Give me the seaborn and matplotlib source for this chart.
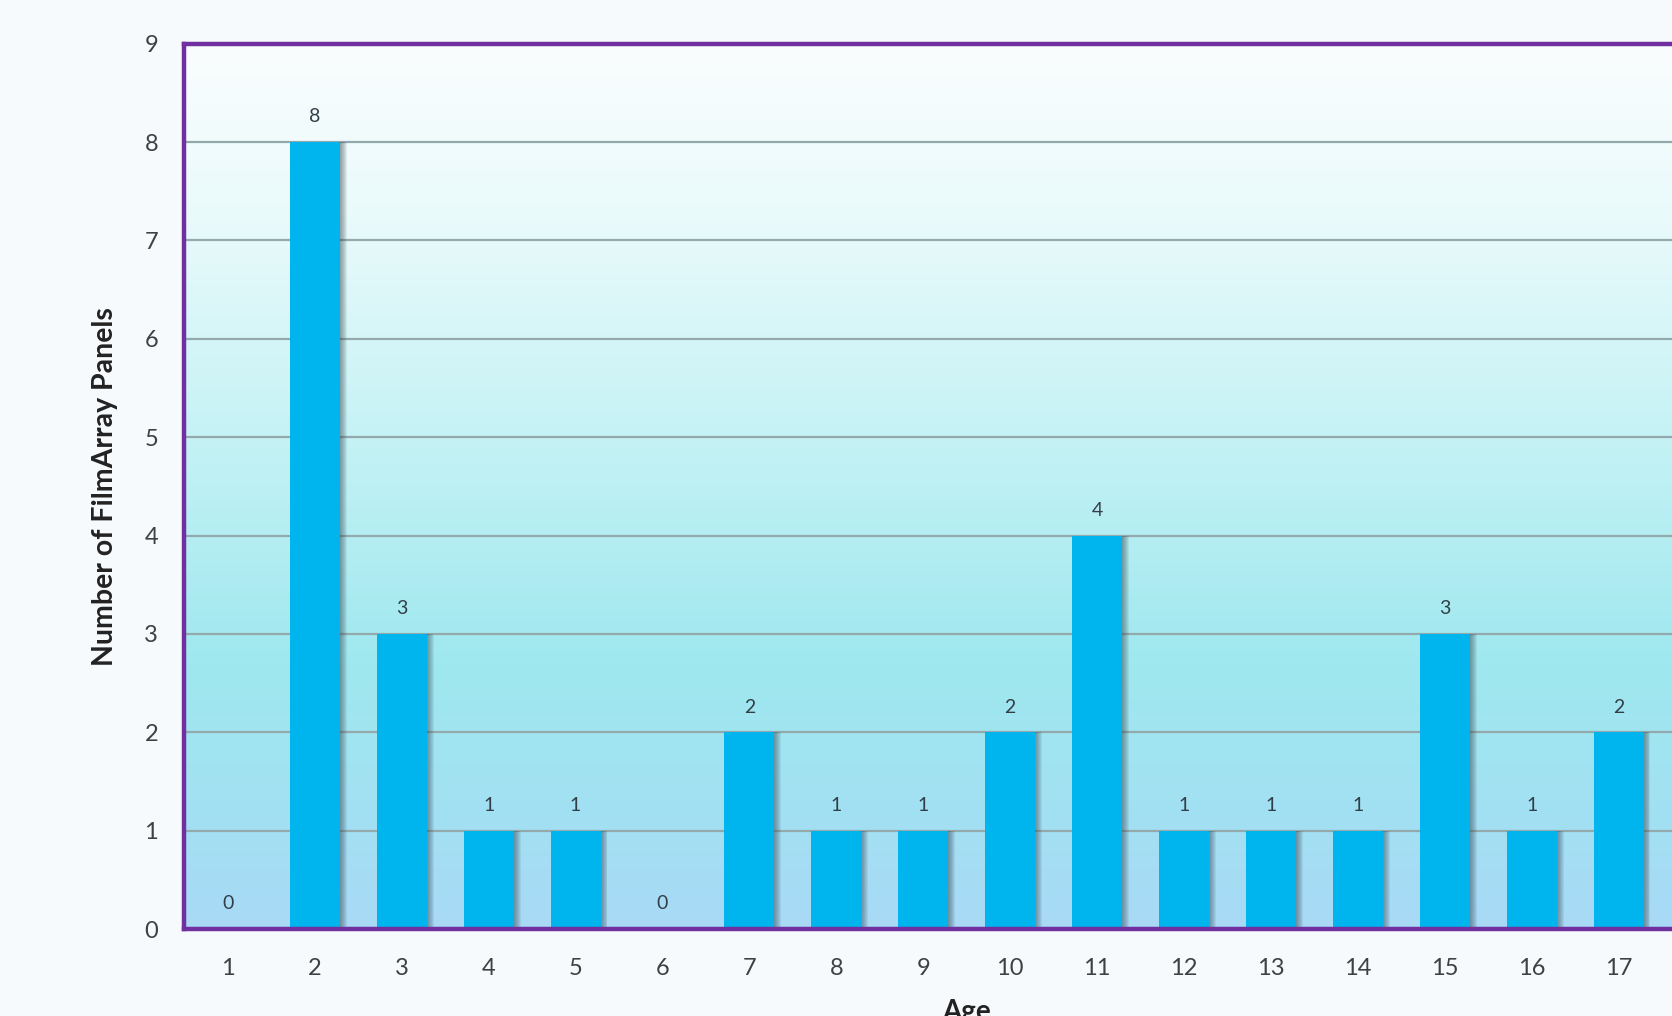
import numpy as np
import pandas as pd
import matplotlib
matplotlib.use("Agg")
import matplotlib.pyplot as plt
from matplotlib.colors import LinearSegmentedColormap
import seaborn as sns

# Panel counts by patient age
ages = [str(a) for a in range(1, 18)]
panels = [0, 8, 3, 1, 1, 0, 2, 1, 1, 2, 4, 1, 1, 1, 3, 1, 2]

y_ticks = list(range(0, 10))

sns.set_theme(style="white")
plt.rcParams["font.family"] = ["Lato", "DejaVu Sans"]

df = pd.DataFrame({"Age": ages, "Panels": panels})

fig = plt.figure(figsize=(16.72, 10.16), dpi=100)
fig.patch.set_facecolor("#F6FAFD")
ax = fig.add_axes([0.1103, 0.0856, 0.9357, 0.8714])

# Plot-area gradient: near-white top fading to cyan, then light sky blue at the base
grad_cmap = LinearSegmentedColormap.from_list(
    "panel_bg",
    [(0.0, "#A9D9F6"), (0.12, "#A2E0F3"), (0.3, "#9FE8EF"),
     (0.55, "#C4F2F5"), (0.8, "#E9FAFB"), (1.0, "#FAFDFE")])
grad = np.linspace(0, 1, 256).reshape(-1, 1)
ax.imshow(grad, extent=[0, 1, 0, 1], transform=ax.transAxes, origin="lower",
          aspect="auto", cmap=grad_cmap, zorder=0)

# Horizontal gridlines
for yv in y_ticks[1:]:
    ax.axhline(yv, color="#93A9AC", lw=1.6, zorder=1)

n = len(ages)
pos = np.arange(n)
bar_w = 0.575

# Soft drop shadow to the right of each bar
for off in np.linspace(0.012, 0.08, 7):
    ax.bar(pos + off, panels, width=bar_w, color="#33434E", alpha=0.085,
           linewidth=0, zorder=2)

sns.barplot(data=df, x="Age", y="Panels", order=ages, color="#00B4EE",
            saturation=1, width=bar_w, ax=ax, zorder=3, linewidth=0)

# Value labels
for i, v in enumerate(panels):
    ax.annotate(str(v), (i, v), xytext=(0, 12), textcoords="offset points",
                ha="center", va="bottom", fontsize=14, color="#333F48",
                zorder=4)

ax.set_xlim(-0.5, 17.5)
ax.set_ylim(0, 9)
ax.set_yticks(y_ticks)
ax.tick_params(axis="y", length=0, pad=19, labelsize=17, labelcolor="#404040")
ax.tick_params(axis="x", length=0, pad=21, labelsize=17, labelcolor="#404040")

ax.set_ylabel("Number of FilmArray Panels", fontsize=20.5, fontweight="bold",
              color="#222222", labelpad=19)
ax.set_xlabel("Age", fontsize=20, fontweight="bold", color="#222222",
              labelpad=14)

for side in ["left", "top", "bottom", "right"]:
    ax.spines[side].set_visible(True)
    ax.spines[side].set_color("#7030A0")
    ax.spines[side].set_linewidth(3.2)
    ax.spines[side].set_zorder(5)

fig.savefig("out.png", dpi=100, facecolor=fig.get_facecolor())
